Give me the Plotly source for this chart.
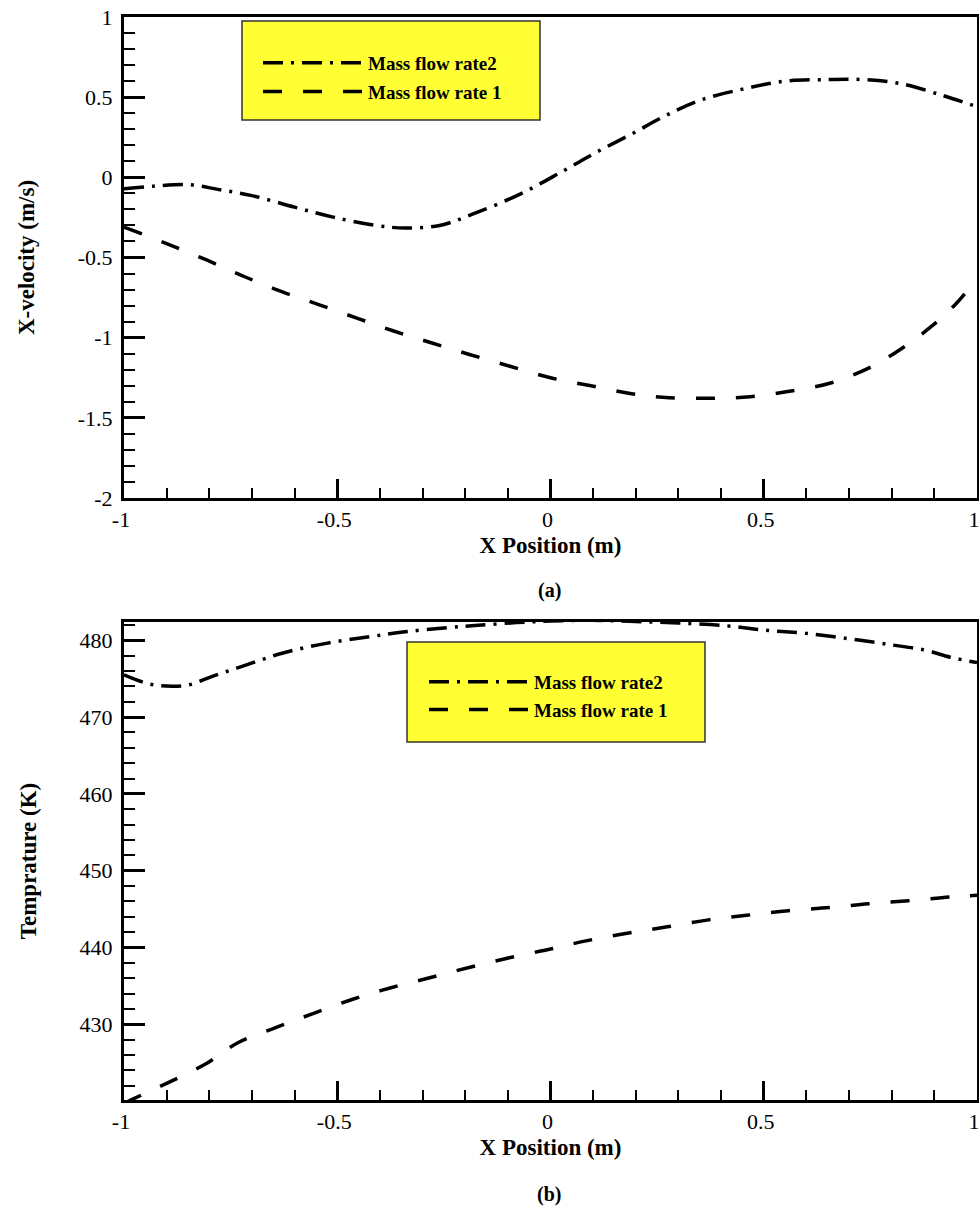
import plotly.graph_objects as go

# ---------------- data ----------------
# (a) X-velocity
vel_r2_x = [-1, -0.93, -0.85, -0.78, -0.70, -0.60, -0.51, -0.41, -0.34, -0.26, -0.18, -0.07,
            0.03, 0.11, 0.19, 0.27, 0.35, 0.45, 0.55, 0.65, 0.73, 0.82, 0.92, 1.0]
vel_r2_y = [-0.072, -0.055, -0.045, -0.075, -0.114, -0.186, -0.248, -0.30, -0.316, -0.30, -0.227, -0.103,
            0.04, 0.16, 0.27, 0.385, 0.48, 0.55, 0.60, 0.61, 0.61, 0.585, 0.51, 0.44]
vel_r1_x = [-1, -0.90, -0.805, -0.717, -0.63, -0.542, -0.454, -0.366, -0.278, -0.19, -0.095, 0.0,
            0.095, 0.19, 0.278, 0.38, 0.468, 0.564, 0.659, 0.747, 0.82, 0.893, 0.952, 1.0]
vel_r1_y = [-0.31, -0.413, -0.517, -0.62, -0.713, -0.795, -0.878, -0.96, -1.033, -1.105, -1.178, -1.25,
            -1.30, -1.35, -1.374, -1.378, -1.368, -1.333, -1.281, -1.188, -1.074, -0.93, -0.785, -0.63]

# (b) Temperature
tmp_r2_x = [-1, -0.94, -0.887, -0.847, -0.793, -0.718, -0.627, -0.526, -0.425, -0.341, -0.24, -0.17,
            -0.08, 0.0, 0.1, 0.2, 0.3, 0.41, 0.505, 0.598, 0.70, 0.80, 0.88, 0.937, 1.0]
tmp_r2_y = [475.5, 474.3, 474.0, 474.2, 475.3, 476.7, 478.35, 479.6, 480.45, 481.1, 481.65, 481.95,
            482.3, 482.5, 482.6, 482.45, 482.25, 481.9, 481.3, 480.9, 480.2, 479.4, 478.7, 477.8, 477.1]
tmp_r1_x = [-1, -0.978, -0.914, -0.81, -0.733, -0.643, -0.552, -0.462, -0.372, -0.281, -0.191, -0.094,
            0.0, 0.086, 0.183, 0.274, 0.37, 0.46, 0.557, 0.654, 0.745, 0.84, 0.938, 1.0]
tmp_r1_y = [419.7, 420.3, 421.96, 424.8, 427.6, 429.6, 431.5, 433.3, 434.8, 436.1, 437.4, 438.7,
            439.8, 440.9, 441.9, 442.7, 443.6, 444.2, 444.8, 445.2, 445.7, 446.1, 446.6, 446.8]

series_names = ["Mass flow rate2", "Mass flow rate 1"]

x_tickvals = [-1, -0.5, 0, 0.5, 1]
x_ticktext = ["-1", "-0.5", "0", "0.5", "1"]
vel_tickvals = [-2, -1.5, -1, -0.5, 0, 0.5, 1]
vel_ticktext = ["-2", "-1.5", "-1", "-0.5", "0", "0.5", "1"]
tmp_tickvals = [430, 440, 450, 460, 470, 480]
tmp_ticktext = ["430", "440", "450", "460", "470", "480"]

# ---------------- style ----------------
W, H = 979, 1228
FONT = "Liberation Serif"
DASHDOT = "20px,8px,3px,8px"
DASHED = "19px,21px"
LW = 3.5

def px(x):
    return x / W

def py(y):
    return 1 - y / H

fig = go.Figure()

fig.add_trace(go.Scatter(x=vel_r2_x, y=vel_r2_y, mode="lines", name=series_names[0],
                         line=dict(color="black", width=LW, dash=DASHDOT, shape="spline"),
                         xaxis="x", yaxis="y", legend="legend", legendgroup="a1"))
fig.add_trace(go.Scatter(x=vel_r1_x, y=vel_r1_y, mode="lines", name=series_names[1],
                         line=dict(color="black", width=LW, dash=DASHED, shape="spline"),
                         xaxis="x", yaxis="y", legend="legend", legendgroup="a2"))
fig.add_trace(go.Scatter(x=tmp_r2_x, y=tmp_r2_y, mode="lines", name=series_names[0],
                         line=dict(color="black", width=LW, dash=DASHDOT, shape="spline"),
                         xaxis="x2", yaxis="y2", legend="legend2", legendgroup="b1"))
fig.add_trace(go.Scatter(x=tmp_r1_x, y=tmp_r1_y, mode="lines", name=series_names[1],
                         line=dict(color="black", width=LW, dash=DASHED, shape="spline"),
                         xaxis="x2", yaxis="y2", legend="legend2", legendgroup="b2"))

tickfont = dict(family=FONT, size=22, color="black")
titlefont = dict(family=FONT, size=23, color="black", weight="bold")

def xaxis(domain_y_anchor, tv, tt):
    return dict(
        domain=[px(124), px(977)], anchor=domain_y_anchor, automargin=False,
        range=[-1, 1], tickmode="array", tickvals=tv, ticktext=tt,
        ticks="inside", ticklen=19, tickwidth=3, tickcolor="black",
        minor=dict(tickmode="linear", tick0=0, dtick=0.1, ticks="inside", ticklen=10,
                   tickwidth=2, tickcolor="black"),
        showline=True, linewidth=3, linecolor="black", mirror=True,
        showgrid=False, zeroline=False, tickfont=tickfont, ticklabeloverflow="allow",
        ticklabelshift=-3,
        title=dict(text="X Position (m)", font=titlefont, standoff=6),
    )

def yaxis(domain, rng, tv, tt, minor_dtick, title, anchor):
    return dict(
        domain=domain, anchor=anchor, range=rng, automargin=False,
        tickmode="array", tickvals=tv, ticktext=tt,
        ticks="inside", ticklen=21, tickwidth=3, tickcolor="black",
        minor=dict(tickmode="linear", tick0=0, dtick=minor_dtick, ticks="inside", ticklen=11,
                   tickwidth=2, tickcolor="black"),
        showline=True, linewidth=3, linecolor="black", mirror=True,
        showgrid=False, zeroline=False, tickfont=tickfont, ticklabelstandoff=4,
        ticklabeloverflow="allow",
        title=dict(text=title, font=titlefont, standoff=37),
    )

legend_font = dict(family=FONT, size=19, color="black", weight="bold")

fig.update_layout(
    width=W, height=H,
    margin=dict(l=0, r=0, t=0, b=0, autoexpand=False),
    paper_bgcolor="white", plot_bgcolor="white",
    xaxis=xaxis("y", x_tickvals, x_ticktext),
    yaxis=yaxis([py(498), py(17)], [-2, 1], vel_tickvals, vel_ticktext, 0.1, "X-velocity (m/s)", "x"),
    xaxis2=xaxis("y2", x_tickvals, x_ticktext),
    yaxis2=yaxis([py(1100), py(622)], [420.15, 482.38], tmp_tickvals, tmp_ticktext, 2, "Temprature (K)", "x2"),
    legend=dict(x=px(258), y=py(44), xanchor="left", yanchor="top", bgcolor="rgba(0,0,0,0)",
                borderwidth=0, font=legend_font, itemwidth=100, tracegroupgap=1),
    legend2=dict(x=px(424), y=py(663), xanchor="left", yanchor="top", bgcolor="rgba(0,0,0,0)",
                 borderwidth=0, font=legend_font, itemwidth=100, tracegroupgap=0),
    shapes=[
        dict(type="rect", xref="paper", yref="paper", x0=px(242), x1=px(540), y0=py(120), y1=py(21),
             fillcolor="#FFFF33", line=dict(color="#333333", width=1.5), layer="above"),
        dict(type="rect", xref="paper", yref="paper", x0=px(407), x1=px(705), y0=py(742), y1=py(642),
             fillcolor="#FFFF33", line=dict(color="#333333", width=1.5), layer="above"),
    ],
    annotations=[
        dict(text="(a)", x=px(549), y=py(590), xref="paper", yref="paper", showarrow=False,
             font=dict(family=FONT, size=20, color="black", weight="bold")),
        dict(text="(b)", x=px(549), y=py(1208), xref="paper", yref="paper", showarrow=False,
             font=dict(family=FONT, size=20, color="black", weight="bold")),
    ],
)

fig.write_html("out.html")
